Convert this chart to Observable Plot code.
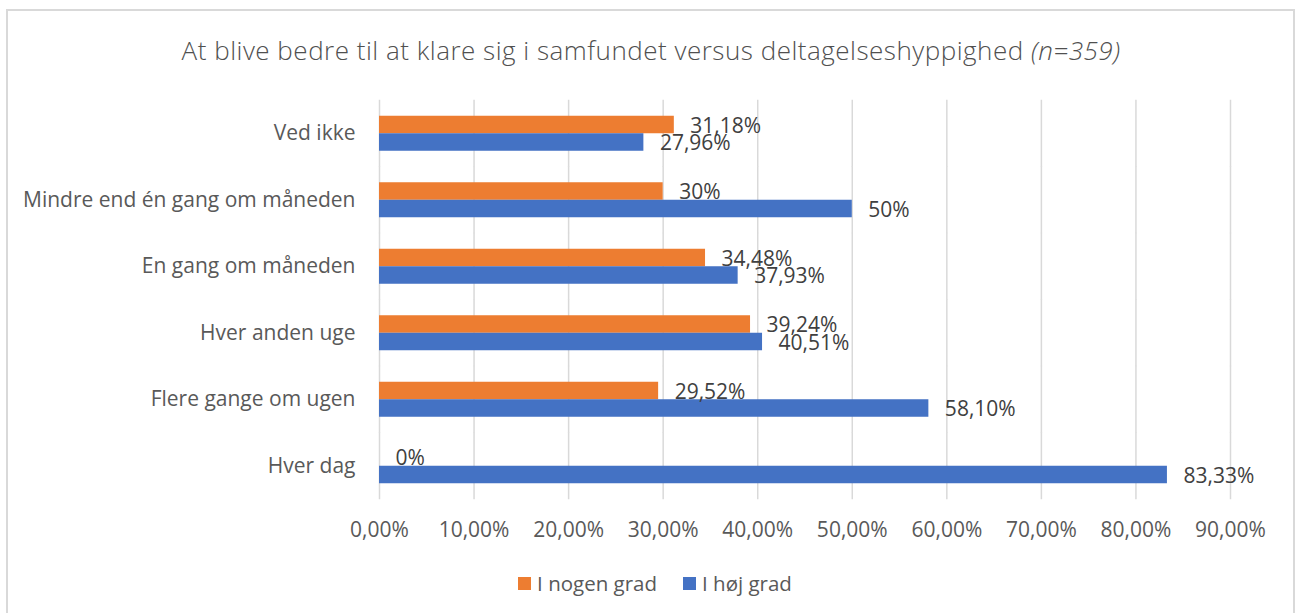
<!DOCTYPE html>
<html>
<head>
<meta charset="utf-8">
<script src="https://cdn.jsdelivr.net/npm/d3@7"></script>
<script src="https://cdn.jsdelivr.net/npm/@observablehq/plot@0.6"></script>
<style>
  html, body { margin: 0; padding: 0; background: #fff; overflow: hidden; }
  #wrap { position: relative; width: 1295px; height: 613px; font-family: "Open Sans", sans-serif; }
  #frame { position: absolute; left: 6px; top: 9px; width: 1289px; height: 700px; border: 2px solid #d9d9d9; box-sizing: border-box; pointer-events: none; }
  #title { height: 80px; box-sizing: border-box; padding-top: 33px; padding-left: 7px; text-align: center; font-size: 26px; font-weight: 300; letter-spacing: 0.5px; line-height: 34px; color: #505050; white-space: nowrap; }
  #chart svg { display: block; }
  #legend { display: flex; justify-content: center; align-items: center; padding-top: 22px; padding-left: 15px; font-size: 20.5px; line-height: 24px; color: #595959; }
  .item { display: flex; align-items: center; margin: 0 13px; }
  .sw { width: 13px; height: 13px; margin-right: 6px; }
</style>
</head>
<body>
<div id="wrap">
  <div id="frame"></div>
  <div id="title">At blive bedre til at klare sig i samfundet versus deltagelseshyppighed <i>(n=359)</i></div>
  <div id="chart"></div>
  <div id="legend"></div>
</div>
<script>
const categories = ["Ved ikke", "Mindre end én gang om måneden", "En gang om måneden", "Hver anden uge", "Flere gange om ugen", "Hver dag"];
const seriesNames = ["I nogen grad", "I høj grad"];
const nogenGrad = [31.18, 30, 34.48, 39.24, 29.52, 0];
const hojGrad = [27.96, 50, 37.93, 40.51, 58.10, 83.33];
const xTicks = [0, 10, 20, 30, 40, 50, 60, 70, 80, 90];
const colors = ["#ED7D31", "#4472C4"];

const fmtTick = v => v.toFixed(2).replace(".", ",") + "%";
const fmtLabel = v => Number.isInteger(v) ? v + "%" : v.toFixed(2).replace(".", ",") + "%";

const data = [];
categories.forEach((c, i) => {
  data.push({category: c, series: seriesNames[0], value: nogenGrad[i]});
  data.push({category: c, series: seriesNames[1], value: hojGrad[i]});
});

const chart = Plot.plot({
  width: 1295,
  height: 469,
  marginTop: 20,
  marginBottom: 50,
  marginLeft: 379,
  marginRight: 65,
  style: {fontFamily: "Open Sans, sans-serif", background: "transparent"},
  x: {domain: [0, 90]},
  fy: {domain: categories, paddingInner: 0.4737, paddingOuter: 0.23685, round: false, label: null},
  y: {domain: seriesNames, padding: 0, round: false, axis: null},
  color: {domain: seriesNames, range: colors},
  marks: [
    Plot.ruleX(xTicks, {x: d => d, stroke: "#d9d9d9", strokeWidth: 1.5, insetTop: -16, insetBottom: -16}),
    Plot.barX(data, {x: "value", y: "series", fy: "category", fill: "series"}),
    Plot.text(data, {x: "value", y: "series", fy: "category", text: d => fmtLabel(d.value), textAnchor: "start", dx: 16, dy: 1, fontSize: 21, fill: "#404040"}),
    Plot.axisFy({anchor: "left", tickSize: 0, tickPadding: 24, fontSize: 21, fill: "#595959", label: null}),
    Plot.axisX({anchor: "bottom", ticks: xTicks, tickFormat: fmtTick, tickSize: 0, tickPadding: 38, fontSize: 21, fill: "#595959", label: null})
  ]
});
document.getElementById("chart").appendChild(chart);

const legend = document.getElementById("legend");
seriesNames.forEach((s, i) => {
  const it = document.createElement("div");
  it.className = "item";
  const sw = document.createElement("div");
  sw.className = "sw";
  sw.style.background = colors[i];
  const t = document.createElement("span");
  t.textContent = s;
  it.appendChild(sw);
  it.appendChild(t);
  legend.appendChild(it);
});
</script>
</body>
</html>
